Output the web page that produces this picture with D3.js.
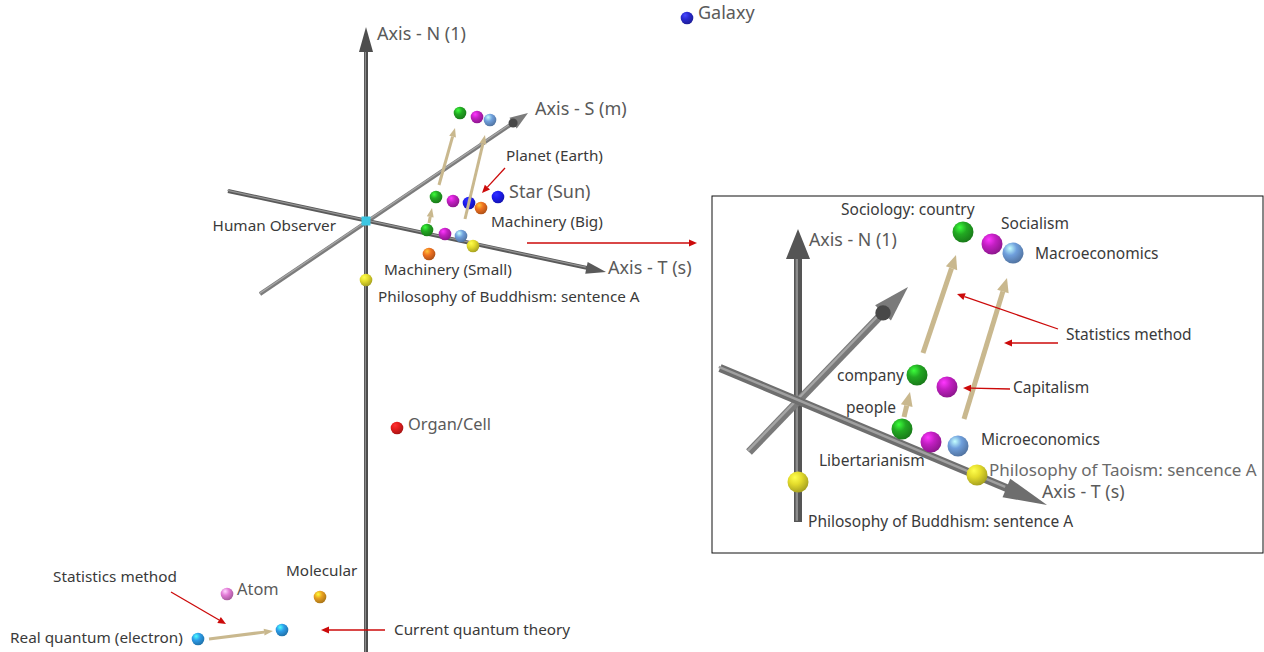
<!DOCTYPE html>
<html>
<head>
<meta charset="utf-8">
<script src="https://cdn.jsdelivr.net/npm/d3@7"></script>
<style>
  body { margin: 0; background: #fff; }
  text { font-family: "Noto Sans", "Open Sans", sans-serif; }
</style>
</head>
<body>
<div id="scene"></div>
<script>
/* observer scale diagram: main 3-axis scene + inset with the economics example */

// ---- data (t = along picture x, n = up, in scene units) ----
const ballKinds  = ['green', 'magenta', 'lightblue', 'blue', 'galaxy', 'orange', 'yellow', 'red', 'pink', 'amber', 'sky'];
const ballColors = ['#22a822', '#c21fc2', '#6f9fdc', '#1c1cf0', '#2a2ad0', '#ee7020', '#e4dc2c', '#e41c1c', '#e27ad6', '#e8a020', '#2c9ce8'];

const mainAxes = [
  { name: 'N', from: [0, -44.5], to: [0, 19.4] },
  { name: 'S', from: [-10.6, -7.3], to: [16.2, 10.8] },
  { name: 'T', from: [-13.8, 3.0], to: [24.0, -5.1] }
];

const mainBalls = [
  { kind: 'galaxy', t: 32.1, n: 20.3 },
  { kind: 'blue', t: 13.2, n: 2.4 },
  { kind: 'green', t: 7.0, n: 2.4 },
  { kind: 'magenta', t: 8.7, n: 2.0 },
  { kind: 'blue', t: 10.3, n: 1.8 },
  { kind: 'orange', t: 11.5, n: 1.3 },
  { kind: 'green', t: 9.4, n: 10.8 },
  { kind: 'magenta', t: 11.1, n: 10.4 },
  { kind: 'lightblue', t: 12.4, n: 10.1 },
  { kind: 'green', t: 6.1, n: -0.9 },
  { kind: 'magenta', t: 7.9, n: -1.3 },
  { kind: 'lightblue', t: 9.5, n: -1.5 },
  { kind: 'orange', t: 6.3, n: -3.3 },
  { kind: 'yellow', t: 10.7, n: -2.5 },
  { kind: 'yellow', t: 0, n: -5.9 },
  { kind: 'red', t: 3.1, n: -20.7 },
  { kind: 'pink', t: -13.9, n: -37.3 },
  { kind: 'amber', t: -4.6, n: -37.6 },
  { kind: 'sky', t: -16.8, n: -41.8 },
  { kind: 'sky', t: -8.4, n: -40.9 }
];

// "statistics method" transitions
const mainTan = [
  { from: [6.3, -0.2], to: [6.6, 1.3] },
  { from: [7.3, 3.6], to: [8.9, 9.3] },
  { from: [9.9, 0.2], to: [11.9, 8.6] },
  { from: [-15.7, -41.8], to: [-9.3, -41.0] }
];

const mainRed = [
  { from: [13.9, 5.3], to: [11.6, 2.8] },
  { from: [16.1, -2.2], to: [33.1, -2.2] },
  { from: [-19.5, -37.1], to: [-14.0, -40.3] },
  { from: [1.9, -40.9], to: [-4.5, -40.9] }
];

const mainBigLabels = [
  { text: 'Axis - N (1)', t: 1.1, n: 18.7 },
  { text: 'Axis - S (m)', t: 16.9, n: 11.2 },
  { text: 'Axis - T (s)', t: 24.2, n: -4.7 },
  { text: 'Galaxy', t: 33.2, n: 20.8 },
  { text: 'Star (Sun)', t: 14.3, n: 2.9 }
];
const mainMidLabels = [
  { text: 'Organ/Cell', t: 4.2, n: -20.3 },
  { text: 'Atom', t: -12.9, n: -36.8 }
];

const mainLabels = [
  { text: 'Planet (Earth)', t: 14.0, n: 6.5 },
  { text: 'Machinery (Big)', t: 12.5, n: -0.1 },
  { text: 'Machinery (Small)', t: 1.8, n: -4.9 },
  { text: 'Philosophy of Buddhism: sentence A', t: 1.2, n: -7.6 },
  { text: 'Molecular', t: -8.0, n: -35.0 },
  { text: 'Statistics method', t: -31.3, n: -35.6 },
  { text: 'Real quantum (electron)', t: -35.6, n: -41.7 },
  { text: 'Current quantum theory', t: 2.8, n: -40.9 }
];
const mainEndLabels = [
  { text: 'Human Observer', t: -3.0, n: -0.5 }
];

const insetFrame = { from: [-8.6, 20.5], to: [46.5, -15.2] };

const insetAxes = [
  { name: 'N', from: [0, -12.1], to: [0, 17.2] },
  { name: 'S', from: [-4.9, -5.1], to: [11.0, 11.4] },
  { name: 'T', from: [-7.8, 3.3], to: [24.9, -10.4] }
];

const insetBalls = [
  { kind: 'yellow', t: 0, n: -8.1 },
  { kind: 'green', t: 10.4, n: -2.8 },
  { kind: 'magenta', t: 13.3, n: -4.1 },
  { kind: 'lightblue', t: 16.0, n: -4.5 },
  { kind: 'yellow', t: 17.9, n: -7.4 },
  { kind: 'green', t: 11.9, n: 2.6 },
  { kind: 'magenta', t: 14.9, n: 1.4 },
  { kind: 'green', t: 16.5, n: 16.9 },
  { kind: 'magenta', t: 19.4, n: 15.7 },
  { kind: 'lightblue', t: 21.5, n: 14.8 }
];

const insetTan = [
  { from: [10.6, -1.6], to: [11.2, 0.9] },
  { from: [12.5, 4.8], to: [15.8, 14.6] },
  { from: [16.6, -1.8], to: [20.9, 12.3] }
];

const insetRed = [
  { from: [26.0, 7.2], to: [15.9, 10.7] },
  { from: [26.0, 5.8], to: [20.6, 5.8] },
  { from: [21.2, 1.2], to: [16.5, 1.3] }
];

const insetAxisLabels = [
  { text: 'Axis - N (1)', t: 1.1, n: 16.1 },
  { text: 'Axis - T (s)', t: 24.4, n: -9.1 }
];

const insetLabels = [
  { text: 'Sociology: country', t: 4.3, n: 19.1 },
  { text: 'Socialism', t: 20.3, n: 17.7 },
  { text: 'Macroeconomics', t: 23.7, n: 14.7 },
  { text: 'Statistics method', t: 26.8, n: 6.6 },
  { text: 'Capitalism', t: 21.5, n: 1.3 },
  { text: 'people', t: 4.8, n: -0.7 },
  { text: 'Microeconomics', t: 18.3, n: -3.9 },
  { text: 'Libertarianism', t: 2.1, n: -6.0 },
  { text: 'Philosophy of Buddhism: sentence A', t: 1.0, n: -12.1 }
];
const insetGreyLabels = [
  { text: 'Philosophy of Taoism: sencence A', t: 19.1, n: -6.9 }
];
const insetEndLabels = [
  { text: 'company', t: 10.6, n: 2.5 }
];

// ---- scales (1 unit = 10 px) ----
const xMain = d3.scaleLinear().domain([0, 10]).range([366, 466]);
const yMain = d3.scaleLinear().domain([0, 10]).range([221, 121]);
const xIn = d3.scaleLinear().domain([0, 10]).range([798, 898]);
const yIn = d3.scaleLinear().domain([0, 10]).range([401, 301]);

const ballColor = d3.scaleOrdinal().domain(ballKinds).range(ballColors);

const svg = d3.select('#scene').append('svg')
  .attr('width', 1264)
  .attr('height', 652);
const defs = svg.append('defs');

ballKinds.forEach(k => {
  const c = d3.color(ballColor(k));
  const g = defs.append('radialGradient')
    .attr('id', 'ball-' + k)
    .attr('cx', '0.38').attr('cy', '0.32').attr('r', '0.7')
    .attr('fx', '0.35').attr('fy', '0.28');
  g.append('stop').attr('offset', '0%').attr('stop-color', c.brighter(1.6));
  g.append('stop').attr('offset', '45%').attr('stop-color', c);
  g.append('stop').attr('offset', '100%').attr('stop-color', c.darker(0.9));
});

function head(x1, y1, x2, y2, len, half) {
  const dx = x2 - x1, dy = y2 - y1, L = Math.hypot(dx, dy);
  const ux = dx / L, uy = dy / L;
  const bx = x2 - ux * len, by = y2 - uy * len;
  return {
    bx, by,
    pts: [[x2, y2], [bx - uy * half, by + ux * half], [bx + uy * half, by - ux * half]].map(p => p.join(',')).join(' ')
  };
}

function arrow(g, x, y, d, color, width, len, half) {
  const x1 = x(d.from[0]), y1 = y(d.from[1]), x2 = x(d.to[0]), y2 = y(d.to[1]);
  const h = head(x1, y1, x2, y2, len, half);
  g.append('line')
    .attr('x1', x1).attr('y1', y1)
    .attr('x2', h.bx).attr('y2', h.by)
    .attr('stroke', color).attr('stroke-width', width);
  g.append('polygon').attr('points', h.pts).attr('fill', color);
}

function drawScene(g, x, y, o) {
  // axes as grey tubes with cone tips
  o.axes.forEach(a => {
    const st = o.axisStyle[a.name];
    const x1 = x(a.from[0]), y1 = y(a.from[1]), x2 = x(a.to[0]), y2 = y(a.to[1]);
    const h = head(x1, y1, x2, y2, st.len, st.half);
    g.append('line')
      .attr('x1', x1).attr('y1', y1).attr('x2', h.bx + (x2 - h.bx) * 0.2).attr('y2', h.by + (y2 - h.by) * 0.2)
      .attr('stroke', st.color).attr('stroke-width', o.tube);
    g.append('line')
      .attr('x1', x1).attr('y1', y1).attr('x2', h.bx).attr('y2', h.by)
      .attr('stroke', st.shine).attr('stroke-width', o.tube * 0.3)
      .attr('transform', `translate(${-o.tube * 0.15},${-o.tube * 0.15})`);
    g.append('polygon').attr('points', h.pts).attr('fill', st.color);
    if (st.disk) {
      g.append('circle').attr('cx', h.bx).attr('cy', h.by).attr('r', st.half * 0.7).attr('fill', '#484848');
    }
  });

  g.append('rect')
    .attr('x', x(0) - o.cube / 2).attr('y', y(0) - o.cube / 2)
    .attr('width', o.cube).attr('height', o.cube)
    .attr('fill', '#3cc6e2');

  g.selectAll('.ball')
    .data(o.balls)
    .enter().append('circle')
    .attr('cx', d => x(d.t))
    .attr('cy', d => y(d.n))
    .attr('r', o.r)
    .attr('fill', d => `url(#ball-${d.kind})`);

  o.tan.forEach(d => arrow(g, x, y, d, '#c9b88e', o.tanW, o.tanLen, o.tanHalf));
  o.red.forEach(d => arrow(g, x, y, d, '#cc0a0a', 1.3, 8, 3.5));

  const addText = (arr, size, fill, anchor) => g.selectAll(null)
    .data(arr)
    .enter().append('text')
    .attr('x', d => x(d.t))
    .attr('y', d => y(d.n))
    .attr('dy', '0.35em')
    .attr('text-anchor', anchor)
    .style('font-size', size + 'px')
    .attr('fill', fill)
    .text(d => d.text);
  o.texts.forEach(t => addText(t[0], t[1], t[2], t[3]));
}

// main scene
drawScene(svg.append('g'), xMain, yMain, {
  axes: mainAxes,
  axisStyle: {
    N: { color: '#4e4e4e', shine: '#8a8a8a', len: 25, half: 7 },
    S: { color: '#7c7c7c', shine: '#a8a8a8', len: 18, half: 6.5, disk: true },
    T: { color: '#5a5a5a', shine: '#959595', len: 20, half: 6 }
  },
  tube: 4, cube: 9, r: 6.3,
  balls: mainBalls, tan: mainTan, red: mainRed,
  tanW: 3, tanLen: 9, tanHalf: 3.5,
  texts: [
    [mainBigLabels, 18, '#5a5a5a', 'start'],
    [mainMidLabels, 16.4, '#5a5a5a', 'start'],
    [mainLabels, 15.3, '#3a3a3a', 'start'],
    [mainEndLabels, 15.3, '#3a3a3a', 'end']
  ]
});

// inset frame
const inset = svg.append('g');
inset.append('rect')
  .attr('x', xIn(insetFrame.from[0]))
  .attr('y', yIn(insetFrame.from[1]))
  .attr('width', xIn(insetFrame.to[0]) - xIn(insetFrame.from[0]))
  .attr('height', yIn(insetFrame.to[1]) - yIn(insetFrame.from[1]))
  .attr('fill', '#fff')
  .attr('stroke', '#111')
  .attr('stroke-width', 1);

drawScene(inset, xIn, yIn, {
  axes: insetAxes,
  axisStyle: {
    N: { color: '#555', shine: '#8c8c8c', len: 30, half: 12 },
    S: { color: '#7a7a7a', shine: '#a5a5a5', len: 36, half: 11, disk: true },
    T: { color: '#6e6e6e', shine: '#a0a0a0', len: 44, half: 10 }
  },
  tube: 8, cube: 0, r: 10.5,
  balls: insetBalls, tan: insetTan, red: insetRed,
  tanW: 5, tanLen: 14, tanHalf: 6,
  texts: [
    [insetAxisLabels, 17.8, '#5a5a5a', 'start'],
    [insetLabels, 15.5, '#3a3a3a', 'start'],
    [insetGreyLabels, 17, '#6a6a6a', 'start'],
    [insetEndLabels, 15.5, '#3a3a3a', 'end']
  ]
});
</script>
</body>
</html>
